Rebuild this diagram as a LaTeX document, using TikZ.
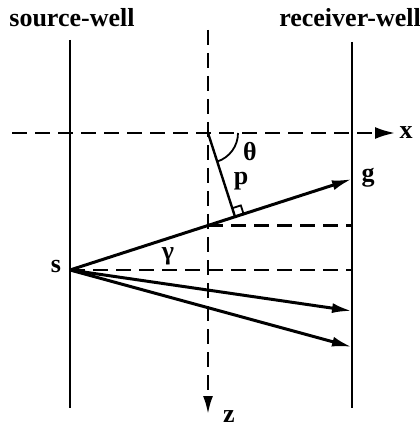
\documentclass[tikz,border=0pt]{standalone}
\usepackage{fontspec}
\setmainfont{Liberation Serif}
\usetikzlibrary{arrows.meta,calc,angles}
\tikzset{
  well/.style={line width=1.2pt},
  guide/.style={line width=1.2pt,dash pattern=on 7.5pt off 4pt},
  ray/.style={line width=1.5pt,-{Latex[length=10pt,width=5pt]}},
  lbl/.style={font=\fontsize{13}{16}\selectfont\bfseries,inner sep=1pt}
}
\begin{document}
\begin{tikzpicture}[x=0.5pt,y=-0.5pt]
\useasboundingbox (0,0) rectangle (419,426);
% wells
\coordinate (stop) at (70,40);
\coordinate (sbot) at (70,408);
\coordinate (gtop) at (352,42);
\coordinate (gbot) at (352,408);
\draw[well] (stop) -- (sbot);
\draw[well] (gtop) -- (gbot);
\node[lbl] (srclbl) at (72,18) {source-well};
\node[lbl] (reclbl) at (350,18) {receiver-well};
% axes
\coordinate (o) at (208,133);
\coordinate (ztop) at (208,30);
\coordinate (zend) at (208,414);
\coordinate (xstart) at (12,133);
\coordinate (xend) at (395,133);
\draw[guide,-{Latex[length=10pt,width=6pt]}] (xstart) -- (xend);
\draw[guide,-{Latex[length=9pt,width=5pt]}] (ztop) -- (zend);
\node[lbl] (xlbl) at (406,133) {x};
\node[lbl] (zlbl) at (229,417) {z};
% source and receivers
\coordinate (s) at (70,270);
\coordinate (g) at (352,179);
\coordinate (r1) at (352,311);
\coordinate (r2) at (352,347);
\node[lbl] (slbl) at (56,267) {s};
\node[lbl] (glbl) at (368,178) {g};
\draw[ray] (s) -- (g);
\draw[ray] (s) -- (r1);
\draw[ray] (s) -- (r2);
% horizontal guides
\coordinate (h1) at ($(s)!{(208-70)/(352-70)}!(g)$);
\draw[guide] (h1) -- (h1 -| g);
\draw[guide] (s) -- (s -| g);
\node[lbl] (gamlbl) at (168,256) {γ};
% normal p and angle
\coordinate (foot) at ($(s)!(o)!(g)$);
\draw[well] (o) -- (foot);
\coordinate (ma) at ($(foot)!4.5pt!(g)$);
\coordinate (mb) at ($(foot)!4.5pt!(o)$);
\draw[line width=0.9pt] (ma) -- ($(ma)+(mb)-(foot)$) -- (mb);
\pic[draw,line width=0.9pt,angle radius=15pt] {angle=foot--o--xend};
\node[lbl] (thlbl) at (250,152) {θ};
\node[lbl] (plbl) at (241,181) {p};
\end{tikzpicture}
\end{document}
